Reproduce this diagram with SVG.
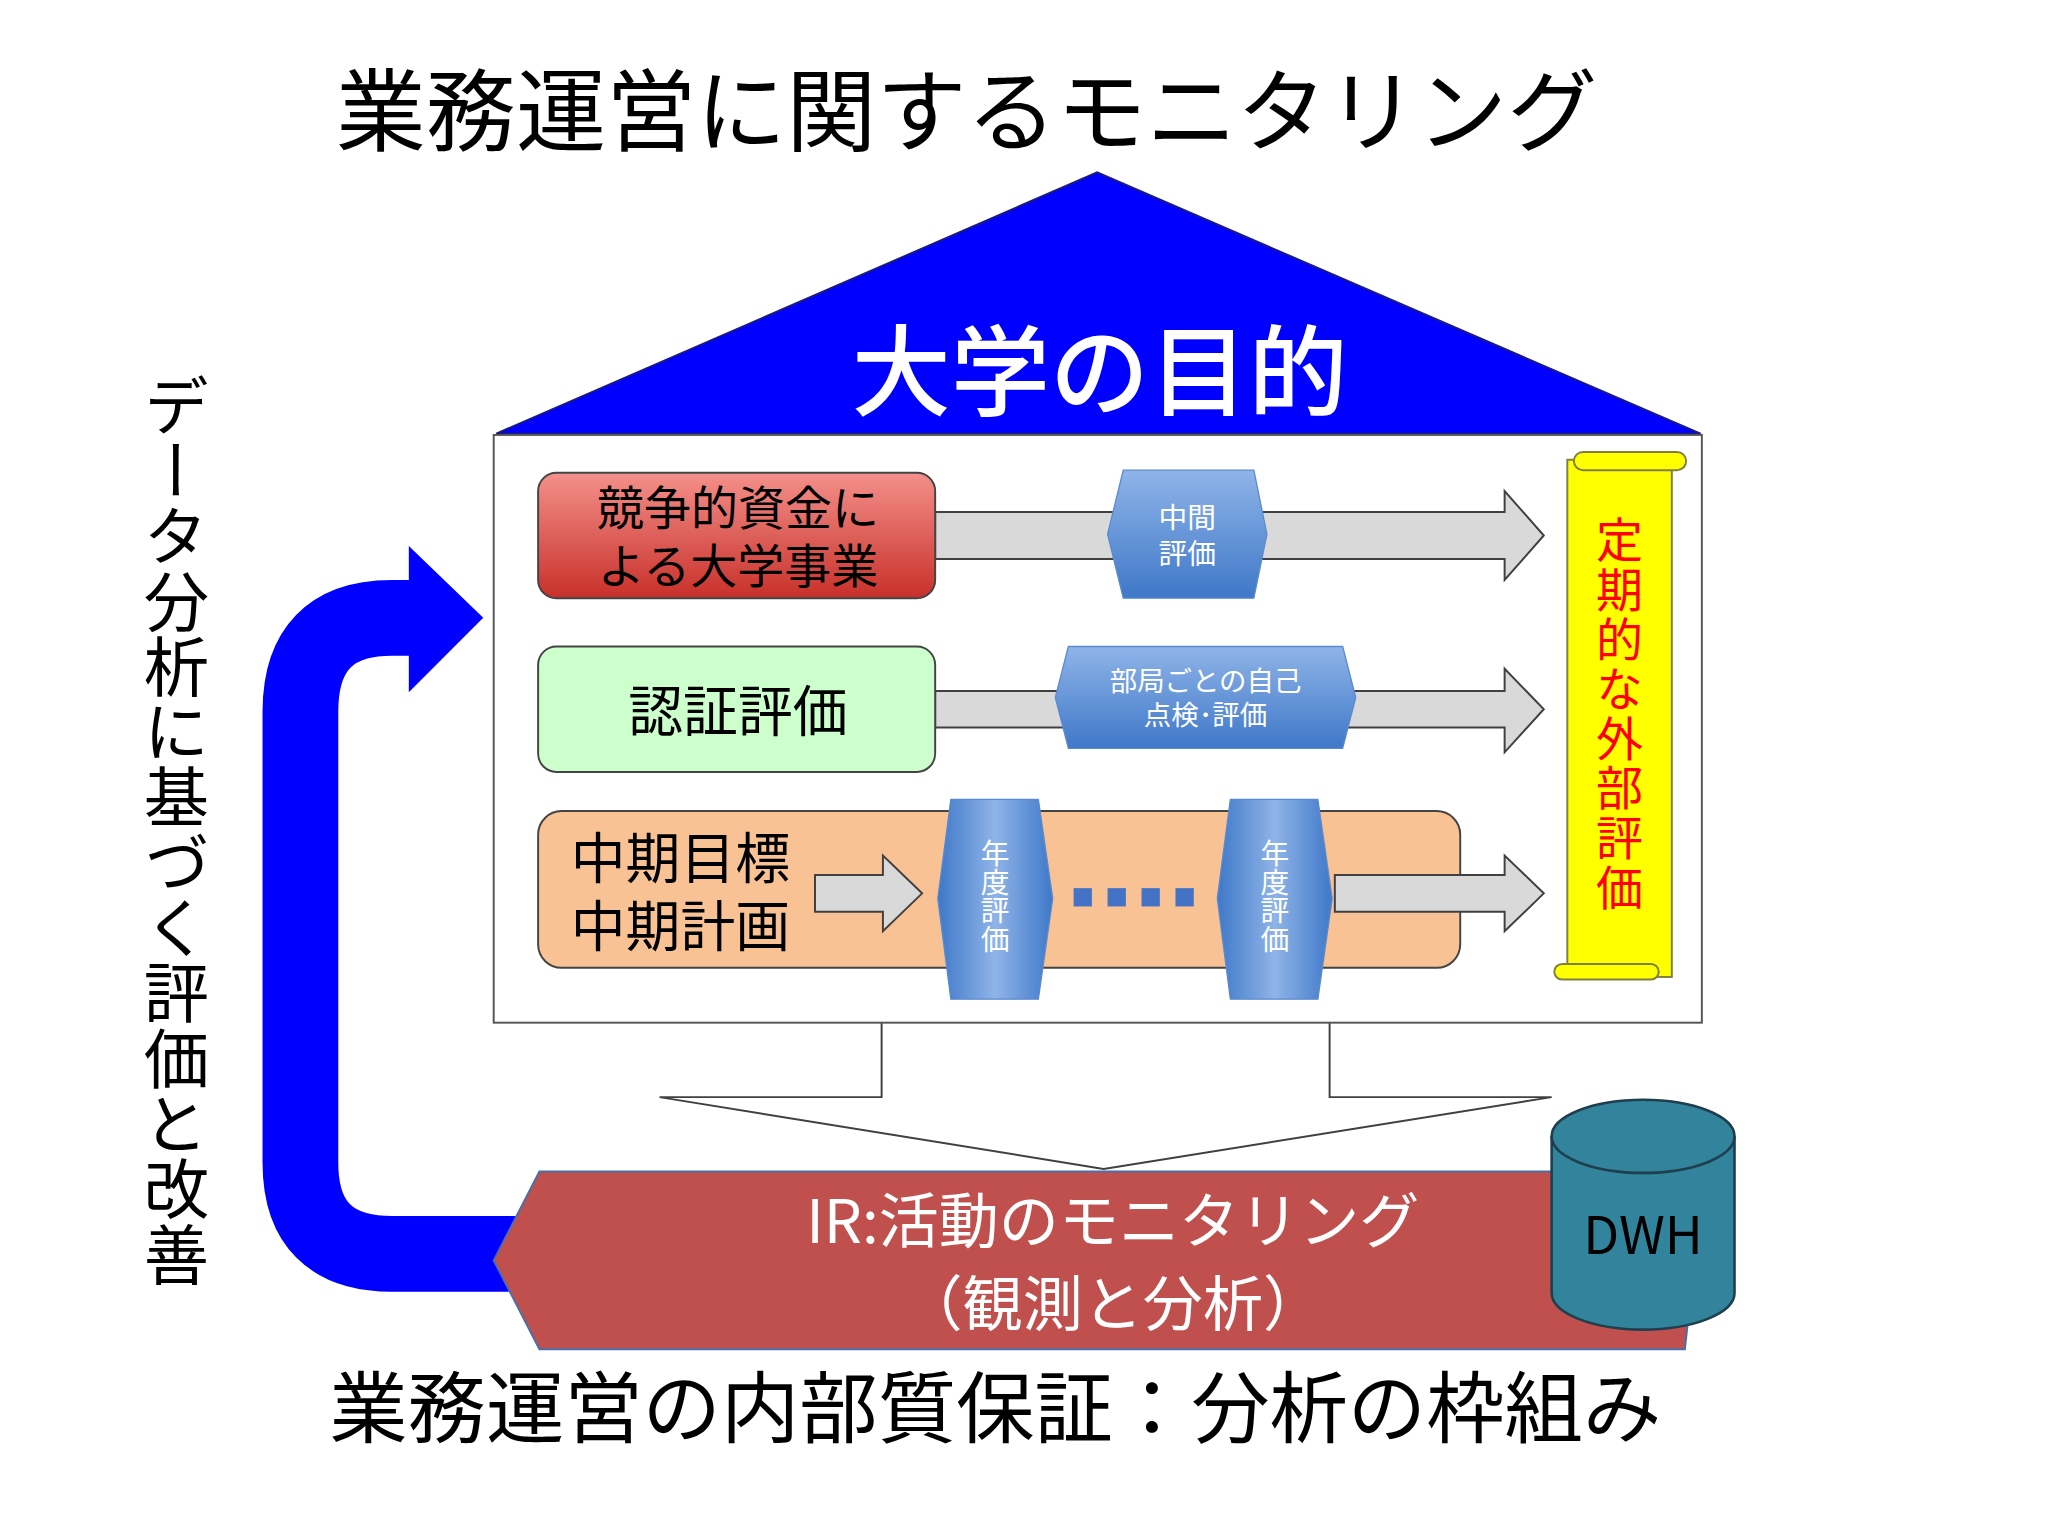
<svg xmlns="http://www.w3.org/2000/svg" width="2048" height="1536" viewBox="0 0 2048 1536">
<defs>
<linearGradient id="gr" x1="0" y1="0" x2="0" y2="1"><stop offset="0" stop-color="#f4908a"/><stop offset="1" stop-color="#c8302a"/></linearGradient>
<linearGradient id="gb" x1="0" y1="0" x2="0" y2="1"><stop offset="0" stop-color="#8fb4e8"/><stop offset="1" stop-color="#3f78c8"/></linearGradient>
<linearGradient id="gbh" x1="0" y1="0" x2="1" y2="0"><stop offset="0" stop-color="#3f78c8"/><stop offset="0.5" stop-color="#8fb4e8"/><stop offset="1" stop-color="#3f78c8"/></linearGradient>
<style>
text{font-family:"Noto Sans CJK JP","Noto Sans",sans-serif}
.ga{fill:#d9d9d9;stroke:#404040;stroke-width:1.5}
.hx{fill:url(#gb);stroke:#5a8ad0;stroke-width:1}
.hv{fill:url(#gbh);stroke:#5a8ad0;stroke-width:1}
.wt{fill:#fff}
</style>
</defs>
<rect width="2048" height="1536" fill="#fff"/>
<g transform="scale(1.3061)">
<text x="740" y="110" font-size="69" text-anchor="middle">業務運営に関するモニタリング</text>
<g id="roof"><polygon points="380,332 840,132 1302,332" fill="#0000ff" stroke="#1a1a80" stroke-width="1.5"/>
<text x="842" y="312" font-size="76" class="wt" text-anchor="middle" font-weight="500">大学の目的</text></g>
<g id="connectors">
<path d="M675,783 V840 H505 L845,895 L1188,840 H1018 V783" fill="#fff" stroke="#404040" stroke-width="1.5"/>
<path d="M395,960 H300 Q230,960 230,890 V545 Q230,473 300,473 H318" fill="none" stroke="#0000ff" stroke-width="58"/>
<polygon points="313,418 370,473 313,530" fill="#0000ff"/>
</g>
<g id="box"><rect x="378" y="333" width="925" height="450" fill="#fff" stroke="#555" stroke-width="1.5"/></g>
<g id="row1">
<polygon class="ga" points="716,392 1152,392 1152,376 1182,410 1152,444 1152,428 716,428"/>
<rect x="412" y="362" width="304" height="96" rx="14" fill="url(#gr)" stroke="#444" stroke-width="1.5"/>
<text x="565" y="402" font-size="36" text-anchor="middle">競争的資金に</text>
<text x="565" y="446" font-size="36" text-anchor="middle">よる大学事業</text>
<polygon class="hx" points="860,360 960,360 970,409 960,458 860,458 848,409"/>
<text x="909" y="404" font-size="22" class="wt" text-anchor="middle">中間</text>
<text x="909" y="432" font-size="22" class="wt" text-anchor="middle">評価</text>
</g>
<g id="row2">
<polygon class="ga" points="716,529 1152,529 1152,512 1182,543 1152,576 1152,557 716,557"/>
<rect x="412" y="495" width="304" height="96" rx="14" fill="#ccffcc" stroke="#444" stroke-width="1.5"/>
<text x="565" y="560" font-size="42" text-anchor="middle">認証評価</text>
<polygon class="hx" points="818,495 1028,495 1038,534 1028,573 818,573 808,534"/>
<text x="923" y="529" font-size="21" class="wt" text-anchor="middle">部局ごとの自己</text>
<text x="923" y="555" font-size="21" class="wt" text-anchor="middle">点検･評価</text>
</g>
<g id="row3">
<rect x="412" y="621" width="706" height="120" rx="18" fill="#f8c294" stroke="#444" stroke-width="1.5"/>
<text x="437" y="672" font-size="42">中期目標</text>
<text x="437" y="724" font-size="42">中期計画</text>
<polygon class="ga" points="624,670 676,670 676,655 706,684 676,713 676,698 624,698"/>
<polygon class="ga" points="1022,670 1152,670 1152,655 1182,684 1152,713 1152,698 1022,698"/>
<polygon class="hv" points="728,612 795,612 806,688 795,765 728,765 718,688"/>
<text x="762" y="642" font-size="22" class="wt" writing-mode="tb">年度評価</text>
<polygon class="hv" points="942,612 1009,612 1020,688 1009,765 942,765 932,688"/>
<text x="976" y="642" font-size="22" class="wt" writing-mode="tb">年度評価</text>
<g fill="#4472c4"><rect x="822" y="680" width="14" height="14"/><rect x="848" y="680" width="14" height="14"/><rect x="874" y="680" width="14" height="14"/><rect x="900" y="680" width="14" height="14"/></g>
</g>
<g id="scroll">
<rect x="1200" y="352" width="80" height="396" fill="#ffff00" stroke="#7f7f3f" stroke-width="1.5"/>
<rect x="1205" y="346" width="86" height="14" rx="7" fill="#ffff00" stroke="#7f7f3f" stroke-width="1.5"/>
<rect x="1190" y="738" width="80" height="12" rx="6" fill="#ffff00" stroke="#7f7f3f" stroke-width="1.5"/>
<text x="1240" y="395" fill="#ff0000" font-size="36" writing-mode="tb" letter-spacing="2">定期的な外部評価</text>
</g>
<g id="ir">
<polygon points="413,897 1305,897 1290,1033 413,1033 378,965" fill="#c0504d" stroke="#4a6fa8" stroke-width="1.5"/>
<text x="852" y="952" font-size="46" class="wt" text-anchor="middle">IR:活動のモニタリング</text>
<text x="852" y="1015" font-size="46" class="wt" text-anchor="middle">（観測と分析）</text>
</g>
<g id="dwh">
<path d="M1188,870 V990 A70,28 0 0 0 1328,990 V870" fill="#31849b" stroke="#1f3f4f" stroke-width="2"/>
<ellipse cx="1258" cy="870" rx="70" ry="28" fill="#31849b" stroke="#1f3f4f" stroke-width="2"/>
<text x="1258" y="960" font-size="40" text-anchor="middle" font-family="Liberation Sans,sans-serif">DWH</text>
</g>
<text x="135" y="285" font-size="50" writing-mode="tb">データ分析に基づく評価と改善</text>
<text x="762" y="1100" font-size="60" text-anchor="middle">業務運営の内部質保証：分析の枠組み</text>
</g>
</svg>
